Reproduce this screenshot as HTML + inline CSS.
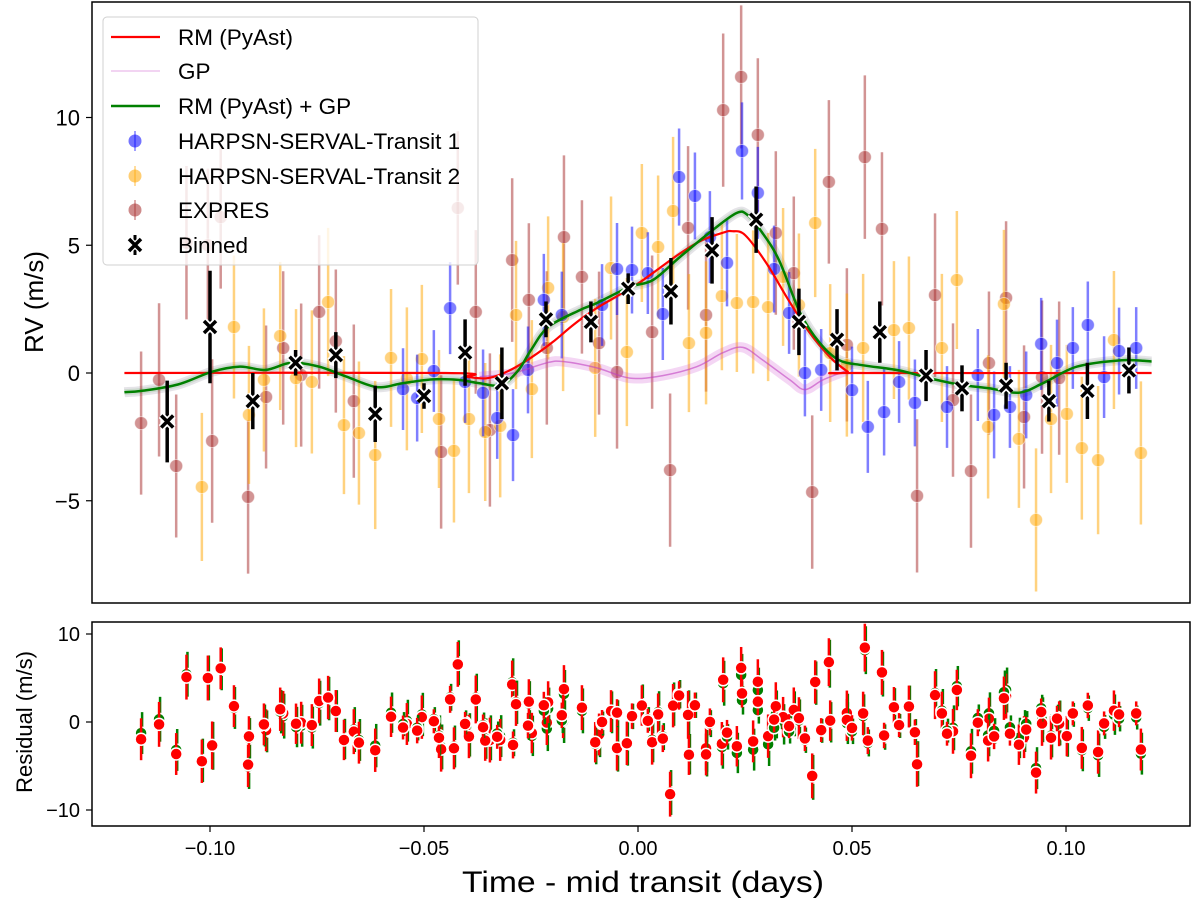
<!DOCTYPE html>
<html><head><meta charset="utf-8"><style>
html,body{margin:0;padding:0;background:#fff;}
svg{display:block;font-family:"Liberation Sans",sans-serif;}
</style></head><body>
<svg id="chart" width="1200" height="909" viewBox="0 0 1200 909" xmlns="http://www.w3.org/2000/svg">
<rect x="0" y="0" width="1200" height="909" fill="#fff"/>
<defs>
<clipPath id="clipTop"><rect x="92" y="2" width="1098" height="601"/></clipPath>
<clipPath id="clipBot"><rect x="92" y="622" width="1098" height="204"/></clipPath>
</defs>
<g id="topPanel" clip-path="url(#clipTop)"></g>
<g id="botPanel" clip-path="url(#clipBot)"></g>
<g id="axesG"></g>
</svg>
<script>
// ---- data ----
const expT=[-0.1161,-0.1119,-0.1079,-0.1055,-0.1005,-0.0995,-0.0975,-0.0911,-0.0869,-0.0829,-0.0787,-0.0745,-0.0706,-0.0664,-0.0460,-0.0421,-0.0379,-0.0346,-0.0294,-0.0255,-0.0213,-0.0173,-0.0131,-0.0091,-0.0049,0.0033,0.0075,0.0117,0.0159,0.0199,0.0241,0.0280,0.0322,0.0364,0.0407,0.0446,0.0488,0.0530,0.0570,0.0652,0.0694,0.0736,0.0778,0.0820,0.0860,0.0902,0.0944,0.0984];
const expV=[-1.96,-0.27,-3.64,5.1,5.0,-2.66,6.1,-4.85,-0.94,0.98,-0.08,2.39,1.25,-1.10,-3.09,6.46,2.39,-2.23,4.42,2.86,0.98,5.32,3.76,1.17,0.04,1.60,-3.80,5.68,2.27,10.29,11.59,9.32,5.48,3.91,-4.66,7.48,1.10,8.45,5.64,-4.81,3.05,-1.06,-3.84,0.39,2.94,-1.72,-0.16,-0.20];
const expE=[2.8,3.0,2.8,3.0,3.0,3.2,2.8,3.0,2.8,3.0,2.8,3.0,2.8,3.0,3.0,3.0,3.2,3.0,3.2,3.0,3.0,3.2,3.0,2.8,3.0,3.0,3.0,3.2,3.0,3.0,2.8,3.0,3.2,3.0,3.0,3.2,3.0,3.2,3.0,3.0,3.2,3.0,3.0,2.8,3.0,2.8,3.0,3.0];
const h1T=[-0.0549,-0.0516,-0.0477,-0.0439,-0.0404,-0.0362,-0.0329,-0.0292,-0.0257,-0.0220,-0.0178,-0.0084,-0.0049,-0.0014,0.0023,0.0058,0.0096,0.0133,0.0168,0.0208,0.0243,0.0280,0.0318,0.0353,0.0390,0.0428,0.0500,0.0537,0.0575,0.0610,0.0647,0.0722,0.0794,0.0832,0.0869,0.0907,0.0942,0.0979,0.1016,0.1051,0.1089,0.1124,0.1164];
const h1V=[-0.63,-0.98,0.08,2.54,-0.35,-0.78,-1.76,-2.43,0.12,2.86,2.27,2.66,4.07,4.03,3.91,2.31,7.67,6.93,5.32,4.31,8.69,7.05,4.07,2.35,0.00,0.12,-0.67,-2.11,-1.53,-0.35,-1.17,-1.33,-0.08,-1.64,-1.33,-0.86,1.14,0.39,0.98,1.88,-0.16,0.86,0.98];
const h1E=[1.6,1.7,1.6,1.8,1.6,1.7,1.6,1.8,1.7,1.8,1.7,1.6,1.8,1.7,1.6,1.8,1.9,1.7,1.8,1.7,1.9,1.8,1.7,1.6,1.7,1.6,1.7,1.8,1.7,1.6,1.7,1.6,1.8,1.7,1.6,1.7,1.8,1.7,1.6,1.7,1.6,1.7,1.6];
const h2T=[-0.1019,-0.0944,-0.0909,-0.0874,-0.0836,-0.0799,-0.0762,-0.0724,-0.0687,-0.0652,-0.0614,-0.0577,-0.0540,-0.0505,-0.0465,-0.0430,-0.0395,-0.0357,-0.0322,-0.0285,-0.0248,-0.0210,-0.0175,-0.0100,-0.0063,-0.0026,0.0009,0.0047,0.0082,0.0119,0.0159,0.0196,0.0231,0.0269,0.0304,0.0339,0.0376,0.0414,0.0449,0.0488,0.0526,0.0598,0.0633,0.0710,0.0745,0.0818,0.0855,0.0890,0.0930,0.0965,0.1002,0.1037,0.1075,0.1112,0.1175];
const h2V=[-4.46,1.80,-1.64,-0.27,1.45,-0.20,-0.35,2.78,-2.04,-2.35,-3.21,0.59,-0.23,0.55,-1.80,-3.05,-1.80,-2.31,-2.07,2.27,-0.63,3.33,2.19,0.20,4.11,0.82,5.48,4.93,6.34,1.17,1.57,3.01,2.74,2.78,2.58,3.76,2.66,5.87,0.78,0.31,0.98,1.68,1.76,0.98,3.64,-2.11,2.70,-2.58,-5.75,-1.80,-1.60,-2.94,-3.41,1.29,-3.13];
const h2E=[2.9,2.8,2.7,2.8,2.9,2.7,2.8,2.9,2.7,2.8,2.9,2.7,2.8,2.9,2.7,2.8,2.9,2.7,2.8,2.9,2.7,2.8,2.9,2.7,2.8,2.9,2.7,2.8,2.9,2.7,2.8,2.9,2.7,2.8,2.9,2.7,2.8,2.9,2.7,2.8,2.9,2.7,2.8,2.9,2.7,2.8,2.9,2.7,2.8,2.9,2.7,2.8,2.9,2.7,2.8];
const binT=[-0.110,-0.100,-0.090,-0.080,-0.0706,-0.0614,-0.050,-0.0404,-0.0318,-0.0215,-0.011,-0.0023,0.0077,0.0173,0.0276,0.0376,0.0465,0.0565,0.0673,0.0757,0.086,0.096,0.105,0.1147];
const binV=[-1.9,1.8,-1.1,0.4,0.7,-1.6,-0.9,0.8,-0.4,2.1,2.0,3.3,3.2,4.8,6.0,2.0,1.3,1.6,-0.1,-0.6,-0.5,-1.1,-0.7,0.1];
const binE=[1.6,2.2,1.1,0.5,0.9,1.1,0.5,1.3,1.4,0.7,0.8,0.6,1.3,1.3,1.3,1.3,1.2,1.2,1.0,0.9,0.9,0.8,1.1,0.9];
const rmT=[-0.12,-0.045,-0.04,-0.035,-0.03,-0.025,-0.02,-0.015,-0.01,-0.005,0.0,0.005,0.01,0.015,0.02,0.022,0.025,0.03,0.035,0.04,0.045,0.049,0.05,0.12];
const rmV=[0,0,-0.15,-0.2,0.1,0.6,1.2,1.9,2.5,3.0,3.5,4.1,4.7,5.2,5.5,5.55,5.4,4.3,2.9,1.6,0.6,0.05,0,0];
const fitT=[-0.12,-0.116,-0.1075,-0.0995,-0.093,-0.087,-0.081,-0.0745,-0.068,-0.061,-0.055,-0.048,-0.042,-0.037,-0.032,-0.028,-0.025,-0.021,-0.0136,-0.0096,-0.0019,0.0035,0.0098,0.0175,0.023,0.0255,0.029,0.033,0.0379,0.0425,0.047,0.0526,0.061,0.068,0.075,0.082,0.089,0.0946,0.1026,0.113,0.12];
const fitV=[-0.75,-0.7,-0.45,0.05,0.25,0.12,0.4,0.25,-0.15,-0.55,-0.4,-0.25,-0.27,-0.4,-0.47,0.1,0.9,1.8,2.46,2.74,3.37,3.64,4.54,5.6,6.26,6.2,5.5,4.4,2.35,1.17,0.5,0.3,0.1,-0.2,-0.45,-0.6,-0.77,-0.4,0.25,0.5,0.45];
const gpT=[-0.037,-0.0292,-0.0213,-0.0175,-0.0096,-0.0019,0.0058,0.0138,0.0199,0.0245,0.0292,0.0355,0.039,0.0432,0.0488];
const gpV=[-0.15,0,0.4,0.45,0.2,-0.2,-0.1,0.25,0.8,1.0,0.5,-0.27,-0.65,-0.27,0.1];
const yTicksTop=[10,5,0,-5];
const yTicksBot=[10,0,-10];
const xTicks=[-0.10,-0.05,0.00,0.05,0.10];
const xTickLabels=["\u22120.10","\u22120.05","0.00","0.05","0.10"];

// ---- scales ----
const X=t=>638+4280*t;
const Y=v=>373-25.55*v;
const YR=r=>722-8.8*r;
const NS="http://www.w3.org/2000/svg";
function mk(tag,parent,attrs){const e=document.createElementNS(NS,tag);for(const k in attrs)e.setAttribute(k,attrs[k]);parent.appendChild(e);return e;}
function interp(ts,vs,t){if(t<=ts[0])return vs[0];for(let i=1;i<ts.length;i++){if(t<=ts[i]){const f=(t-ts[i-1])/(ts[i]-ts[i-1]);return vs[i-1]+f*(vs[i]-vs[i-1]);}}return vs[vs.length-1];}
function smoothPath(ts,vs,ys){const pts=ts.map((t,i)=>[X(t),ys(vs[i])]);let d="M"+pts[0][0].toFixed(1)+","+pts[0][1].toFixed(1);for(let i=0;i<pts.length-1;i++){const p0=pts[Math.max(0,i-1)],p1=pts[i],p2=pts[i+1],p3=pts[Math.min(pts.length-1,i+2)];const c1=[p1[0]+(p2[0]-p0[0])/6,p1[1]+(p2[1]-p0[1])/6],c2=[p2[0]-(p3[0]-p1[0])/6,p2[1]-(p3[1]-p1[1])/6];d+="C"+c1[0].toFixed(1)+","+c1[1].toFixed(1)+" "+c2[0].toFixed(1)+","+c2[1].toFixed(1)+" "+p2[0].toFixed(1)+","+p2[1].toFixed(1);}return d;}

const topG=document.getElementById('topPanel'),botG=document.getElementById('botPanel'),axesG=document.getElementById('axesG');

// grey band (GP samples)
const gb=mk('path',topG,{d:smoothPath(fitT,fitV,Y),fill:'none',stroke:'#8a8296','stroke-width':10,'stroke-opacity':0.22,'stroke-linejoin':'round'});



// scatter series
function series(ts,vs,es,color,name){
  const g=mk('g',topG,{});
  
  
  for(let i=0;i<ts.length;i++){
    const x=X(ts[i]);
    const bar=mk('line',g,{x1:x,x2:x,y1:Y(vs[i]-es[i]),y2:Y(vs[i]+es[i]),stroke:color,'stroke-width':2.5,'stroke-opacity':0.5});
    
    
    const c=mk('circle',g,{cx:x,cy:Y(vs[i]),r:6.5,fill:color,'fill-opacity':0.5,stroke:'#fff','stroke-opacity':0.5,'stroke-width':1});
    
    
  }
}
series(expT,expV,expE,'#a52a2a','expres');
series(h2T,h2V,h2E,'#ffa500','harpsn-transit-2');
series(h1T,h1V,h1E,'#0000ff','harpsn-transit-1');

// GP
const gpb=mk('path',topG,{d:smoothPath(gpT,gpV,Y),fill:'none',stroke:'#cc44cc','stroke-width':10,'stroke-opacity':0.22});


const gpl=mk('path',topG,{d:smoothPath(gpT,gpV,Y),fill:'none',stroke:'#c040c0','stroke-width':1.5,'stroke-opacity':0.6});


// RM line
const rml=mk('path',topG,{d:smoothPath(rmT,rmV,Y),fill:'none',stroke:'#ff0000','stroke-width':2.2});


// green fit band + line
const fb=mk('path',topG,{d:smoothPath(fitT,fitV,Y),fill:'none',stroke:'#3a9a3a','stroke-width':6,'stroke-opacity':0.15});


const fl=mk('path',topG,{d:smoothPath(fitT,fitV,Y),fill:'none',stroke:'#008000','stroke-width':2.5});



// binned
const bg=mk('g',topG,{});


for(let i=0;i<binT.length;i++){
  const x=X(binT[i]),y=Y(binV[i]);
  const b=mk('line',bg,{x1:x,x2:x,y1:Y(binV[i]-binE[i]),y2:Y(binV[i]+binE[i]),stroke:'#000','stroke-width':3.5});
  
  
  const m=mk('path',bg,{d:`M${x-6},${y-6}L${x+6},${y+6}M${x-6},${y+6}L${x+6},${y-6}`,stroke:'#fff','stroke-width':7});
  
  
  const m2=mk('path',bg,{d:`M${x-6},${y-6}L${x+6},${y+6}M${x-6},${y+6}L${x+6},${y-6}`,stroke:'#000','stroke-width':3.5});
  
  
}

// residuals
function resid(ts,vs,es){
  for(let i=0;i<ts.length;i++){
    const x=X(ts[i]);
    const rg=vs[i]-interp(fitT,fitV,ts[i]);
    const rr=vs[i]-interp(rmT,rmV,ts[i]);
    const gl=mk('line',botG,{x1:x+1,x2:x+1,y1:YR(rg-es[i]*0.85),y2:YR(rg+es[i]*0.85),stroke:'#008000','stroke-width':2.5});
    
    
    const gc=mk('circle',botG,{cx:x,cy:YR(rg),r:6,fill:'#008000',stroke:'#fff','stroke-width':1.5});
    
    
    const rl=mk('line',botG,{x1:x,x2:x,y1:YR(rr-es[i]*0.85),y2:YR(rr+es[i]*0.85),stroke:'#ff0000','stroke-width':2.5});
    
    
    const rc=mk('circle',botG,{cx:x,cy:YR(rr),r:6,fill:'#ff0000',stroke:'#fff','stroke-width':1.5});
    
    
  }
}
resid(expT,expV,expE);resid(h2T,h2V,h2E);resid(h1T,h1V,h1E);

// frames
const f1=mk('rect',axesG,{x:92,y:2,width:1098,height:601,fill:'none',stroke:'#000','stroke-width':1.5});


const f2=mk('rect',axesG,{x:92,y:622,width:1098,height:204,fill:'none',stroke:'#000','stroke-width':1.5});



// ticks
yTicksTop.forEach(v=>{
  const y=Y(v);
  const tk=mk('line',axesG,{x1:86,x2:92,y1:y,y2:y,stroke:'#000','stroke-width':1.2});
  
  
  const tx=mk('text',axesG,{x:80,y:y+8,'text-anchor':'end','font-size':22,fill:'#000'});
  tx.textContent=v<0?'\u2212'+Math.abs(v):String(v);
  
  
});
yTicksBot.forEach(v=>{
  const y=YR(v);
  const tk=mk('line',axesG,{x1:86,x2:92,y1:y,y2:y,stroke:'#000','stroke-width':1.2});
  
  
  const tx=mk('text',axesG,{x:80,y:y+7,'text-anchor':'end','font-size':20,fill:'#000'});
  tx.textContent=v<0?'\u2212'+Math.abs(v):String(v);
  
  
});
xTicks.forEach((t,i)=>{
  const x=X(t);
  const tk=mk('line',axesG,{x1:x,x2:x,y1:826,y2:832,stroke:'#000','stroke-width':1.2});
  
  
  const tx=mk('text',axesG,{x:x,y:855,'text-anchor':'middle','font-size':20,fill:'#000'});
  tx.textContent=xTickLabels[i];
  
  
});

// axis titles
const yt=mk('text',axesG,{x:0,y:0,transform:'translate(43,302) rotate(-90)','text-anchor':'middle','font-size':26,fill:'#000'});
yt.textContent='RV (m/s)';


const yt2=mk('text',axesG,{x:0,y:0,transform:'translate(32,722) rotate(-90)','text-anchor':'middle','font-size':22,fill:'#000'});
yt2.textContent='Residual (m/s)';


const xt=mk('text',axesG,{x:643,y:892,'text-anchor':'middle','font-size':30,textLength:362,lengthAdjust:'spacingAndGlyphs',fill:'#000'});
xt.textContent='Time - mid transit (days)';



// legend
const lg=mk('g',axesG,{});


const lb=mk('rect',lg,{x:103,y:17,width:375,height:248,rx:4,fill:'#fff','fill-opacity':0.8,stroke:'#d0d0d0','stroke-width':1});


const legLabels=['RM (PyAst)','GP','RM (PyAst) + GP','HARPSN-SERVAL-Transit 1','HARPSN-SERVAL-Transit 2','EXPRES','Binned'];
const legY=[37,71,106,141,176,210,245];
legLabels.forEach((lab,i)=>{
  const y=legY[i];
  let h;
  if(i===0)h=mk('line',lg,{x1:111,x2:160,y1:y,y2:y,stroke:'#ff0000','stroke-width':2.2});
  else if(i===1)h=mk('line',lg,{x1:111,x2:160,y1:y,y2:y,stroke:'#cc55cc','stroke-width':2,'stroke-opacity':0.25});
  else if(i===2)h=mk('line',lg,{x1:111,x2:160,y1:y,y2:y,stroke:'#008000','stroke-width':2.5});
  else if(i<6){const c=['#0000ff','#ffa500','#a52a2a'][i-3];h=mk('g',lg,{});mk('line',h,{x1:135,x2:135,y1:y-10,y2:y+10,stroke:c,'stroke-width':1.5,'stroke-opacity':0.5});mk('circle',h,{cx:135,cy:y,r:6.5,fill:c,'fill-opacity':0.55});}
  else{h=mk('g',lg,{});mk('line',h,{x1:135,x2:135,y1:y-10,y2:y+10,stroke:'#000','stroke-width':3});mk('path',h,{d:`M129,${y-6}L141,${y+6}M129,${y+6}L141,${y-6}`,stroke:'#fff','stroke-width':6});mk('path',h,{d:`M129,${y-6}L141,${y+6}M129,${y+6}L141,${y-6}`,stroke:'#000','stroke-width':3.5});}
  
  
  const tx=mk('text',lg,{x:178,y:y+8,'font-size':22.5,fill:'#000'});
  tx.textContent=lab;
  
  
});
</script>
</body></html>
